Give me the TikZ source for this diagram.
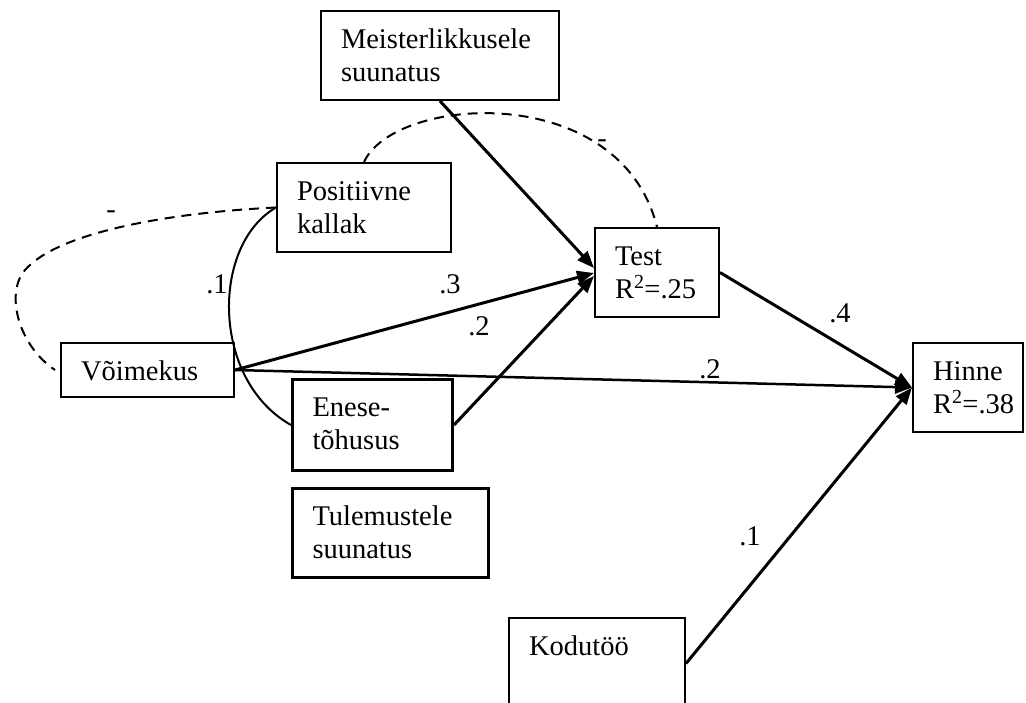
\documentclass[tikz,border=0pt]{standalone}
\usepackage{fontspec}
\setmainfont{Liberation Serif}
\usetikzlibrary{arrows.meta}
\hyphenpenalty=10000
\exhyphenpenalty=10000
\tikzset{
  every node/.style={font=\fontsize{28.5}{33}\selectfont},
  box/.style={draw, line width=2pt, inner xsep=20pt, inner ysep=0pt, text height=37pt, align=left, anchor=north west},
  thickbox/.style={box, line width=3pt},
  lbl/.style={inner sep=0pt, anchor=base},
  arr/.style={line width=3pt, -{Triangle[length=17pt,width=13pt]}},
  arrthin/.style={line width=2.5pt, -{Triangle[length=17pt,width=13pt]}},
  corr/.style={line width=2pt},
  dcorr/.style={line width=2pt, dash pattern=on 10pt off 7pt},
}
\begin{document}
\begin{tikzpicture}[x=1pt,y=-1pt]
\useasboundingbox (0,0) rectangle (1026,702);
\clip (0,0) rectangle (1026,702);
% boxes
\node[box, text width=198pt, text depth=52pt] (meis) at (320,10) {Meisterlikkusele\\suunatus};
\node[box, text width=134pt, text depth=52pt] (pos) at (276,162) {Positiivne\\kallak};
\node[box, text width=84pt, text depth=52pt] (test) at (594,227) {Test\\R\textsuperscript{2}=.25};
\node[box, text width=70pt, text depth=52pt] (hinne) at (912,342) {Hinne\\R\textsuperscript{2}=.38};
\node[box, text width=133pt, text depth=17pt] (voim) at (60,342) {Võimekus};
\node[thickbox, text width=120pt, text depth=54pt] (enese) at (291,378) {Enese-\\tõhusus};
\node[thickbox, text width=156pt, text depth=52pt] (tul) at (291,487) {Tulemustele\\suunatus};
\node[box, text width=136pt, text depth=54pt] (kod) at (508,617) {Kodutöö};
% paths
\draw[arr] (meis.south) -- ([yshift=4.5pt]test.west);
\draw[arr] (voim.east) -- ([yshift=-0.5pt]test.west);
\draw[arr] (enese.east) -- ([yshift=-3.5pt]test.west);
\draw[arrthin] (voim.east) -- (hinne.west);
\draw[arr] (test.east) -- (hinne.west);
\draw[arr] (kod.east) -- (hinne.west);
% correlations
\draw[corr] (pos.west) .. controls (211,245) and (211,380) .. (enese.west);
\draw[dcorr] (pos.west) .. controls (180,212) and (60,230) .. (25,270) .. controls (5,293) and (18,345) .. ([xshift=-5pt]voim.west);
\draw[dcorr] (pos.north) .. controls (395,95) and (620,80) .. (test.north);
% labels
\node[lbl] (l1) at (217,293) {.1};
\node[lbl] (l2) at (111,218) {-};
\node[lbl] (l3) at (602,147) {-};
\node[lbl] (l4) at (450,293) {.3};
\node[lbl] (l5) at (479,335) {.2};
\node[lbl] (l6) at (710,378) {.2};
\node[lbl] (l7) at (840,322) {.4};
\node[lbl] (l8) at (750,545) {.1};
\end{tikzpicture}
\end{document}
